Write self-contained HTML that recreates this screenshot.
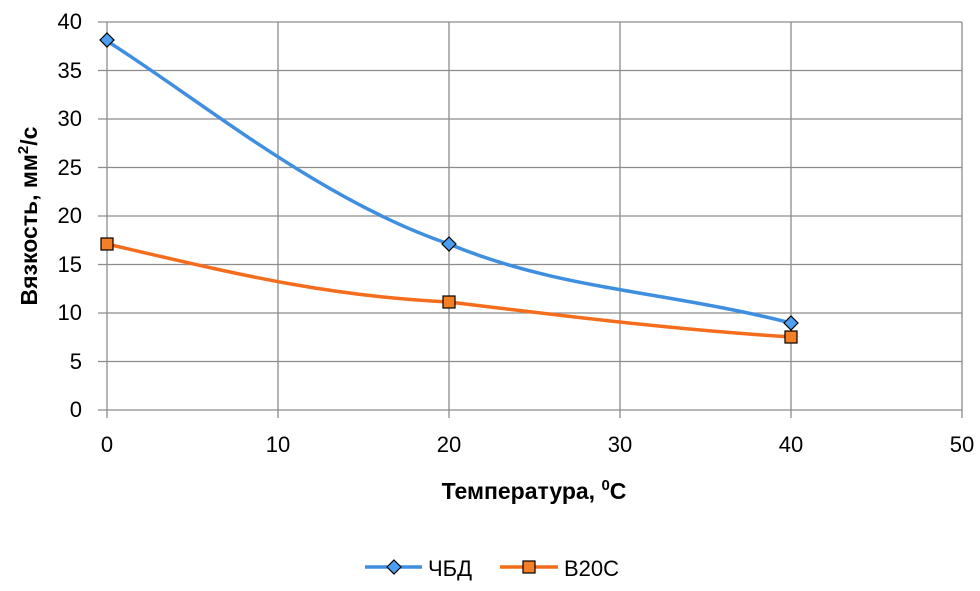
<!DOCTYPE html>
<html><head><meta charset="utf-8"><style>body{margin:0;background:#fff}svg{display:block;font-family:"Liberation Sans",sans-serif}</style></head><body>
<svg width="980" height="591" viewBox="0 0 980 591">
<g stroke="#8c8c8c" stroke-width="1.3">
<line x1="98" y1="22" x2="962" y2="22"/><line x1="98" y1="70.5" x2="962" y2="70.5"/><line x1="98" y1="119" x2="962" y2="119"/><line x1="98" y1="167.5" x2="962" y2="167.5"/><line x1="98" y1="216" x2="962" y2="216"/><line x1="98" y1="264.5" x2="962" y2="264.5"/><line x1="98" y1="313" x2="962" y2="313"/><line x1="98" y1="361.5" x2="962" y2="361.5"/><line x1="98" y1="410" x2="962" y2="410"/>
<line x1="107" y1="22" x2="107" y2="418"/><line x1="278" y1="22" x2="278" y2="418"/><line x1="449" y1="22" x2="449" y2="418"/><line x1="620" y1="22" x2="620" y2="418"/><line x1="791" y1="22" x2="791" y2="418"/><line x1="962" y1="22" x2="962" y2="418"/>
</g>
<g font-size="22" fill="#000" text-anchor="end">
<text x="82" y="29">40</text><text x="82" y="78">35</text><text x="82" y="126">30</text><text x="82" y="175">25</text><text x="82" y="223">20</text><text x="82" y="272">15</text><text x="82" y="320">10</text><text x="82" y="369">5</text><text x="82" y="417">0</text>
</g>
<g font-size="22" fill="#000" text-anchor="middle">
<text x="107" y="452">0</text><text x="278" y="452">10</text><text x="449" y="452">20</text><text x="620" y="452">30</text><text x="791" y="452">40</text><text x="962" y="452">50</text>
</g>
<text x="534" y="499" font-size="23" font-weight="bold" text-anchor="middle">Температура, <tspan font-size="15" dy="-9">0</tspan><tspan dy="9">С</tspan></text>
<text transform="translate(37,216) rotate(-90)" font-size="23" font-weight="bold" text-anchor="middle">Вязкость, мм<tspan font-size="15" dy="-9">2</tspan><tspan dy="9">/с</tspan></text>
<path d="M107,41 C200,100 320,200 449,244 C560,290 660,290 791,323" fill="none" stroke="#3f8fe0" stroke-width="3.5"/>
<path d="M107,244 C220,270 320,296 449,302 C580,318 680,330 791,337" fill="none" stroke="#f46d1c" stroke-width="3.5"/>
<g fill="#4a9ff0" stroke="#000" stroke-width="1.2">
<path d="M107,33l7,7-7,7-7-7z"/><path d="M449,237l7,7-7,7-7-7z"/><path d="M791,316l7,7-7,7-7-7z"/>
</g>
<g fill="#f57f24" stroke="#000" stroke-width="1.2">
<rect x="101" y="238" width="12" height="12"/><rect x="443" y="296" width="12" height="12"/><rect x="785" y="331" width="12" height="12"/>
</g>
<line x1="365" y1="567" x2="422" y2="567" stroke="#3f8fe0" stroke-width="3.5"/>
<path d="M394,560l7,7-7,7-7-7z" fill="#4a9ff0" stroke="#000" stroke-width="1.2"/>
<text x="428" y="576" font-size="22">ЧБД</text>
<line x1="500" y1="567" x2="558" y2="567" stroke="#f46d1c" stroke-width="3.5"/>
<rect x="523" y="561" width="12" height="12" fill="#f57f24" stroke="#000" stroke-width="1.2"/>
<text x="564" y="576" font-size="22">В20С</text>
</svg>
</body></html>
